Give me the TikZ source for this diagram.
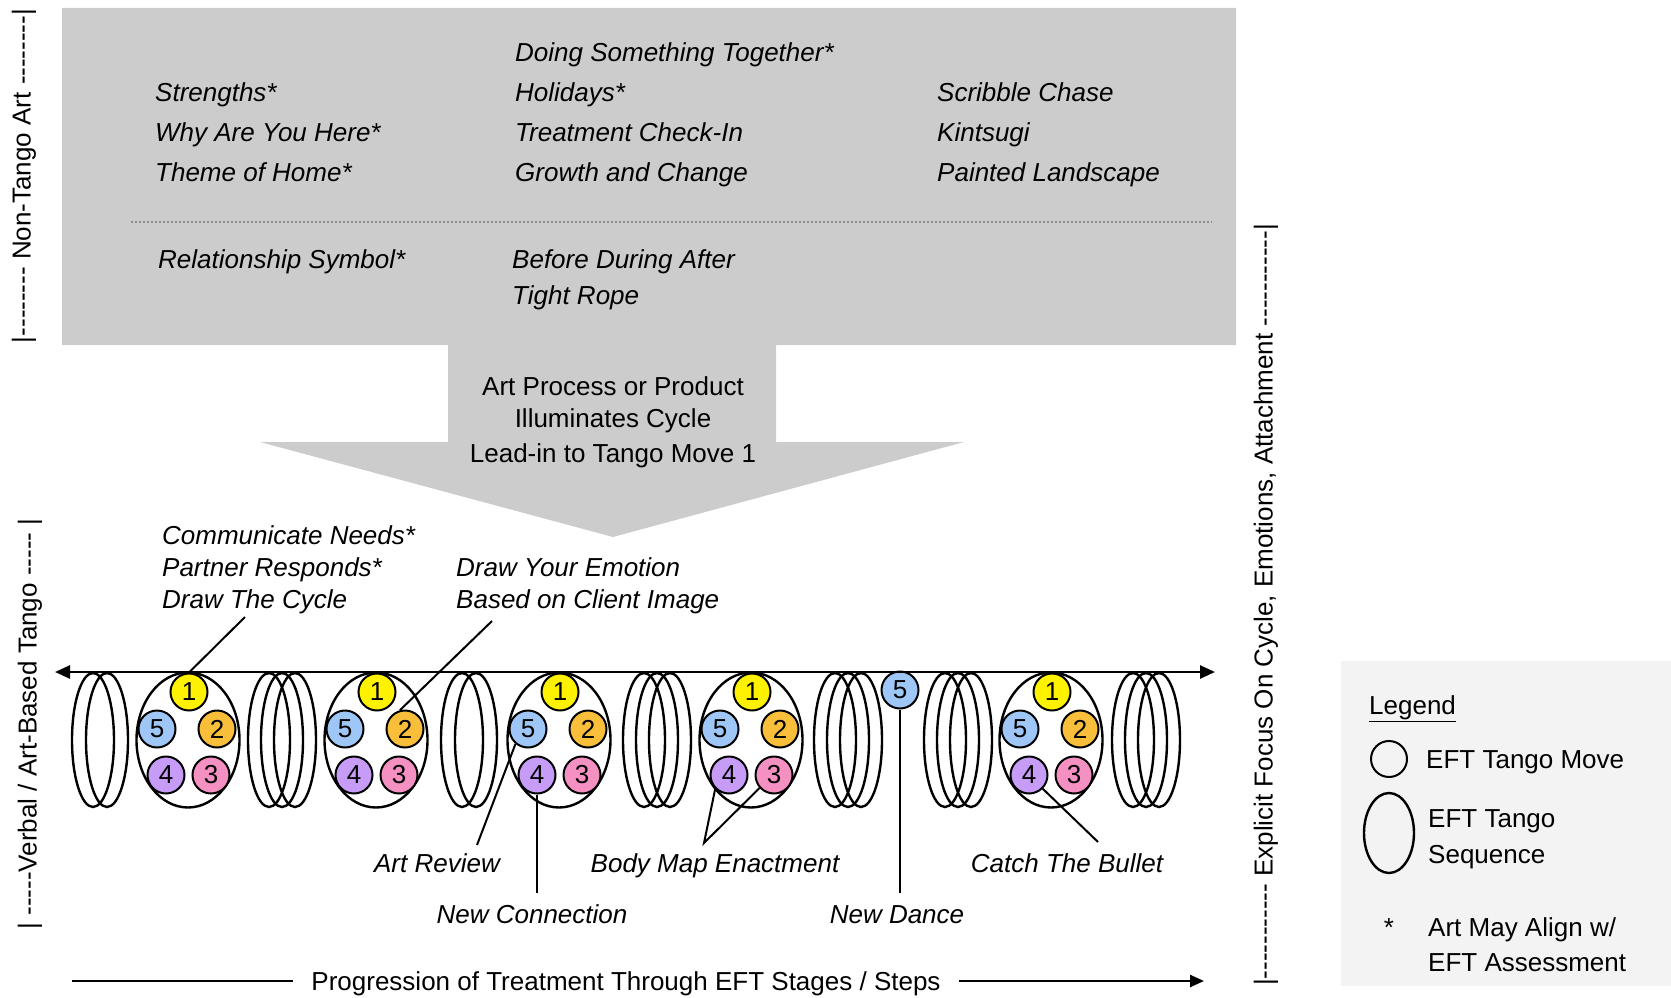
\documentclass[tikz,border=0pt]{standalone}
\usepackage{fontspec}
\setmainfont{Liberation Sans}
\usetikzlibrary{shapes.geometric,arrows.meta}
\definecolor{boxgray}{HTML}{CCCCCC}
\definecolor{leggray}{HTML}{F3F3F3}
\definecolor{dotgray}{HTML}{8C8C8C}
\definecolor{cone}{HTML}{FFF200}
\definecolor{ctwo}{HTML}{F9BF3B}
\definecolor{cthree}{HTML}{F590C3}
\definecolor{cfour}{HTML}{C79CF7}
\definecolor{cfive}{HTML}{9EC6F6}
\newcommand\hyps[1]{\foreach\k in {1,...,#1}{-}}
\newcommand\tangoseq[2]{%
  \node[seq] (#1) at (#2,740) {};
  \node[mv,fill=cone] (#1-1) at ({#2+1},692) {1};
  \node[mv,fill=ctwo] (#1-2) at ({#2+29},729) {2};
  \node[mv,fill=cthree] (#1-3) at ({#2+23},775) {3};
  \node[mv,fill=cfour] (#1-4) at ({#2-22},775) {4};
  \node[mv,fill=cfive] (#1-5) at ({#2-31},729) {5};
}
\newcommand\coiltwo[1]{\draw[coil] ({#1-7},740) ellipse [x radius=21,y radius=67]
  ({#1+7},740) ellipse [x radius=21,y radius=67];}
\newcommand\coilthree[1]{\draw[coil] ({#1-13},740) ellipse [x radius=21,y radius=67]
  (#1,740) ellipse [x radius=21,y radius=67]
  ({#1+13},740) ellipse [x radius=21,y radius=67];}
\begin{document}
\begin{tikzpicture}[x=1pt,y=-1pt,
  every node/.style={inner sep=0pt},
  lbl/.style={font=\fontsize{26}{31}\selectfont\itshape, anchor=base west},
  ctr/.style={font=\fontsize{26}{31}\selectfont, anchor=base},
  leg/.style={font=\fontsize{26}{31}\selectfont, anchor=base west},
  vlab/.style={font=\fontsize{26}{31}\selectfont, rotate=90, anchor=center},
  mv/.style={circle, draw, line width=2, minimum size=37, font=\fontsize{26}{31}\selectfont},
  seq/.style={ellipse, draw, line width=2.4, minimum width=103, minimum height=135},
  coil/.style={line width=2.4},
  lead/.style={line width=2},
  tip/.style={-{Triangle[length=14,width=12]}},
  axis/.style={line width=2.6, {Triangle[length=15,width=13]}-{Triangle[length=15,width=13]}}
]
\useasboundingbox (0,0) rectangle (1671,998);
% gray top box and arrow
\fill[boxgray] (62,8) -- (1236,8) -- (1236,345) -- (776,345) -- (776,442) -- (964,442)
  -- (613,537) -- (260,442) -- (448,442) -- (448,345) -- (62,345) -- cycle;
\draw[dotgray, line width=1.6, dash pattern=on 1.6pt off 2.4pt] (131,222) -- (1212,222);
% legend background
\fill[leggray] (1341,661) rectangle (1671,986);

% vertical labels
\node[vlab] (vNon) at (24,176) {|\hyps{8} Non-Tango Art \hyps{8}|};
\node[vlab] (vVerb) at (30,724) {| \hyps{5}Verbal / Art-Based Tango \hyps{5} |};
\node[vlab] (vExp) at (1266,605) {|\hyps{11} Explicit Focus On Cycle, Emotions, Attachment \hyps{11}|};

% top box texts
\node[lbl] (a1) at (155,102) {Strengths*};
\node[lbl] (a2) at (155,141) {Why Are You Here*};
\node[lbl] (a3) at (155,181) {Theme of Home*};
\node[lbl] (b0) at (515,62) {Doing Something Together*};
\node[lbl] (b1) at (515,102) {Holidays*};
\node[lbl] (b2) at (515,141) {Treatment Check-In};
\node[lbl] (b3) at (515,181) {Growth and Change};
\node[lbl] (c1) at (937,102) {Scribble Chase};
\node[lbl] (c2) at (937,141) {Kintsugi};
\node[lbl] (c3) at (937,181) {Painted Landscape};
\node[lbl] (d1) at (158,268) {Relationship Symbol*};
\node[lbl] (e1) at (512,268) {Before During After};
\node[lbl] (e2) at (512,304) {Tight Rope};

% arrow text
\node[ctr] (m1) at (613,395) {Art Process or Product};
\node[ctr] (m2) at (613,427) {Illuminates Cycle};
\node[ctr] (m3) at (613,462) {Lead-in to Tango Move 1};

% labels above axis
\node[lbl] (f1) at (162,544) {Communicate Needs*};
\node[lbl] (f2) at (162,576) {Partner Responds*};
\node[lbl] (f3) at (162,608) {Draw The Cycle};
\node[lbl] (g1) at (456,576) {Draw Your Emotion};
\node[lbl] (g2) at (456,608) {Based on Client Image};

% coils
\coiltwo{100}
\coilthree{282}
\coiltwo{469}
\coilthree{657}
\coilthree{848}
\coilthree{958}
\coilthree{1146}

% sequences
\tangoseq{E1}{188}
\tangoseq{E2}{376}
\tangoseq{E3}{559}
\tangoseq{E4}{751}
\tangoseq{E5}{1051}
\node[mv,fill=cfive] (L5) at (900,690) {5};

% axis
\coordinate (axL) at (55,672);
\coordinate (axR) at (1215,672);
\draw[axis] (axR) -- (axL);

% labels below
\node[ctr, font=\fontsize{26}{31}\selectfont\itshape] (ar) at (437,872) {Art Review};
\node[ctr, font=\fontsize{26}{31}\selectfont\itshape] (nc) at (532,923) {New Connection};
\node[ctr, font=\fontsize{26}{31}\selectfont\itshape] (bm) at (715,872) {Body Map Enactment};
\node[ctr, font=\fontsize{26}{31}\selectfont\itshape] (nd) at (897,923) {New Dance};
\node[ctr, font=\fontsize{26}{31}\selectfont\itshape] (cb) at (1067,872) {Catch The Bullet};

% leader lines
\coordinate (kCN) at (245,617);
\coordinate (kDE) at (492,621);
\coordinate (kAR) at (477,845);
\coordinate (kNC) at (537,893);
\coordinate (kBM) at (704,843);
\coordinate (kND) at (900,893);
\coordinate (kCB) at (1098,842);
\draw[lead] (E1-1.north) -- (kCN);
\draw[lead] (E2-2.105) -- (kDE);
\draw[lead] (E3-5.230) -- (kAR);
\draw[lead] (E3-4.south) -- (kNC);
\draw[lead] (E4-4.225) -- (kBM) -- (E4-3.222);
\draw[lead] (L5.south) -- (kND);
\draw[lead] (E5-4.-45) -- (kCB);

% progression
\node[ctr, inner xsep=18pt] (prog) at (626,990) {Progression of Treatment Through EFT Stages / Steps};
\coordinate (pL) at (72,981);
\coordinate (pR) at (1204,981);
\draw[line width=2.4] (pL) -- (prog.west |- pL);
\draw[line width=2.4, tip] (prog.east |- pR) -- (pR);

% legend
\node[leg] (lg) at (1369,714) {\underline{Legend}};
\node[circle, draw, line width=2, minimum size=36] (lgc) at (1389,759) {};
\node[leg] (lg1) at (1426,768) {EFT Tango Move};
\node[ellipse, draw, line width=2.4, minimum width=50, minimum height=80] (lge) at (1389,833) {};
\node[leg] (lg2) at (1428,827) {EFT Tango};
\node[leg] (lg3) at (1428,863) {Sequence};
\node[ctr] (lgs) at (1389,936) {*};
\node[leg] (lg4) at (1428,936) {Art May Align w/};
\node[leg] (lg5) at (1428,971) {EFT Assessment};
\end{tikzpicture}
\end{document}
